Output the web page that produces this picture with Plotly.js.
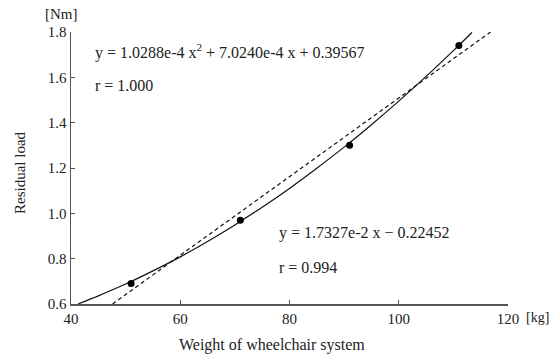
<!DOCTYPE html>
<html>
<head>
<meta charset="utf-8">
<script src="https://cdn.plot.ly/plotly-3.0.1.min.js"></script>
<style>html,body{margin:0;padding:0;background:#fff;}#chart{width:559px;height:356px;}</style>
</head>
<body>
<div id="chart"></div>
<script>
// Measured points (weight kg, residual load Nm)
var pointX = [51, 71, 91, 111];
var pointY = [0.69, 0.97, 1.30, 1.74];
// Quadratic fit curve read along its path
var quadX = [41.3, 45, 50, 55, 60, 65, 70, 75, 80, 85, 90, 95, 100, 105, 110, 113.4];
var quadY = [0.600, 0.636, 0.688, 0.746, 0.808, 0.876, 0.949, 1.027, 1.110, 1.199, 1.292, 1.391, 1.495, 1.604, 1.718, 1.798];
// Linear fit line end points
var linX = [47.6, 116.8];
var linY = [0.600, 1.800];
var xTicks = [40, 60, 80, 100, 120];
var yTicks = [0.6, 0.8, 1.0, 1.2, 1.4, 1.6, 1.8];
var yTickText = ['0.6', '0.8', '1.0', '1.2', '1.4', '1.6', '1.8'];

var font = 'Liberation Serif, Times New Roman, serif';
var col = '#222';
var traces = [
  {x: quadX, y: quadY, mode: 'lines', line: {color: '#111', width: 1.2, shape: 'spline'}, hoverinfo: 'skip'},
  {x: linX, y: linY, mode: 'lines', line: {color: '#111', width: 1.2, dash: '4px,3px'}, hoverinfo: 'skip'},
  {x: pointX, y: pointY, mode: 'markers', marker: {color: '#000', size: 7}}
];
var layout = {
  width: 559, height: 356,
  margin: {l: 71, r: 51, t: 32, b: 52},
  paper_bgcolor: '#fff', plot_bgcolor: '#fff',
  showlegend: false,
  font: {family: font, size: 15, color: col},
  xaxis: {
    range: [40, 120], tickvals: xTicks, ticks: 'inside', ticklen: 4, tickcolor: '#555',
    showline: true, linecolor: '#555', linewidth: 1.5, showgrid: false, zeroline: false,
    tickfont: {family: font, size: 15, color: col}
  },
  yaxis: {
    range: [0.6, 1.8], tickvals: yTicks, ticktext: yTickText, ticks: 'inside', ticklen: 4, tickcolor: '#555',
    showline: true, linecolor: '#555', linewidth: 1.5, showgrid: false, zeroline: false,
    tickfont: {family: font, size: 15, color: col}
  },
  annotations: [
    {xref: 'paper', yref: 'paper', x: 0.46, y: -0.1507, xanchor: 'center', yanchor: 'middle', text: 'Weight of wheelchair system', showarrow: false, font: {family: font, size: 16, color: col}},
    {xref: 'paper', yref: 'paper', x: -0.1167, y: 0.4816, xanchor: 'center', yanchor: 'middle', textangle: -90, text: 'Residual load', showarrow: false, font: {family: font, size: 15, color: col}},
    {xref: 'paper', yref: 'paper', x: -0.064, y: 1.0, yshift: 18, xanchor: 'left', yanchor: 'middle', text: '[Nm]', showarrow: false, font: {family: font, size: 15, color: col}},
    {xref: 'paper', yref: 'paper', x: 1.0, y: 0, xshift: 16, yshift: -13, xanchor: 'left', yanchor: 'middle', text: '[kg]', showarrow: false, font: {family: font, size: 14, color: col}},
    {xref: 'x', yref: 'y', x: 44, y: 1.712, xanchor: 'left', yanchor: 'middle', text: 'y = 1.0288e-4 x<sup>2</sup> + 7.0240e-4 x + 0.39567', showarrow: false, font: {family: font, size: 16, color: col}},
    {xref: 'x', yref: 'y', x: 44, y: 1.566, xanchor: 'left', yanchor: 'middle', text: 'r = 1.000', showarrow: false, font: {family: font, size: 16, color: col}},
    {xref: 'x', yref: 'y', x: 77.7, y: 0.913, xanchor: 'left', yanchor: 'middle', text: 'y = 1.7327e-2 x − 0.22452', showarrow: false, font: {family: font, size: 16, color: col}},
    {xref: 'x', yref: 'y', x: 77.7, y: 0.763, xanchor: 'left', yanchor: 'middle', text: 'r = 0.994', showarrow: false, font: {family: font, size: 16, color: col}}
  ]
};
Plotly.newPlot('chart', traces, layout, {staticPlot: true, displayModeBar: false});
</script>
</body>
</html>
